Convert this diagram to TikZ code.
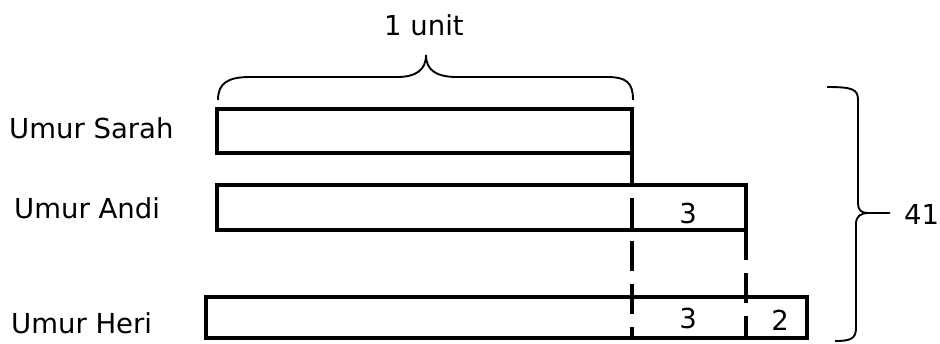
\documentclass[tikz,border=0pt]{standalone}
\usepackage{fontspec}
\setmainfont{DejaVu Sans}
\begin{document}
\begin{tikzpicture}[x=1pt,y=-1pt,
  bar/.style={draw=black,line width=4.6pt,fill=white,inner sep=0pt,outer sep=0pt,anchor=north west},
  lbl/.style={inner sep=0pt,anchor=base west,font=\fontsize{27.5}{30}\selectfont},
  num/.style={inner sep=0pt,anchor=base,font=\fontsize{27.5}{30}\selectfont},
  vline/.style={line width=3.8pt,draw=black},
  dashline/.style={vline,dash pattern=on 30pt off 13pt},
  bracepath/.style={line width=1.9pt,draw=black}]
\useasboundingbox (0,0) rectangle (940,343);
% bars
\node[bar,minimum width=415pt,minimum height=44pt] (sarah) at (217,109) {};
\node[bar,minimum width=529pt,minimum height=45pt] (andi) at (217,185) {};
\node[bar,minimum width=601pt,minimum height=41pt] (heri) at (206,297) {};
% vertical lines
\draw[vline] (sarah.south east) -- (sarah.south east |- andi.north);
\draw[dashline,dash phase=30pt] (andi.north -| sarah.east) -- (heri.south -| sarah.east);
\draw[dashline] (andi.south east) -- (andi.east |- heri.south);
% labels
\node[lbl] (lsarah) at (9,138) {Umur Sarah};
\node[lbl] (landi) at (14,218) {Umur Andi};
\node[lbl] (lheri) at (11,333) {Umur Heri};
\node[num] (n3a) at (688,223) {3};
\node[num] (n3h) at (688,328) {3};
\node[num] (n2h) at (780,330) {2};
% top brace
\coordinate (tb1) at (218,100);
\coordinate (tb2) at (633,100);
\coordinate (ttip) at (426,55);
\draw[bracepath] (tb1) .. controls (218,83) and (228,77) .. (250,77) -- (397,77)
  .. controls (416,77) and (426,70) .. (ttip)
  .. controls (426,70) and (436,77) .. (457,77) -- (607,77)
  .. controls (627,77) and (633,83) .. (tb2);
\node[num,anchor=base] (unit) at (424,35) {1 unit};
% right brace
\coordinate (rb1) at (827,87);
\coordinate (rb2) at (835,341);
\coordinate (rtip) at (890,213);
\draw[bracepath] (rb1) .. controls (852,87) and (858,89) .. (858,100) -- (858,203)
  .. controls (858,210) and (861,213) .. (868,213) -- (rtip);
\draw[bracepath] (868,213) .. controls (861,213) and (856,216) .. (856,224) -- (856,328)
  .. controls (856,339) and (850,341) .. (rb2);
\node[num,anchor=base west] (forty) at (904,224) {41};
\end{tikzpicture}
\end{document}
